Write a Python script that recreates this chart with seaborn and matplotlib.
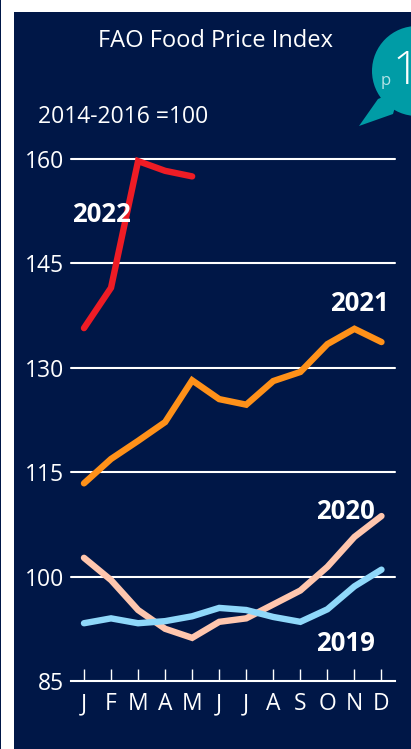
import pandas as pd
import seaborn as sns
import matplotlib.pyplot as plt
from matplotlib.patches import Circle, Polygon, Rectangle

months = ['J', 'F', 'M', 'A', 'M', 'J', 'J', 'A', 'S', 'O', 'N', 'D']
y_ticks = [85, 100, 115, 130, 145, 160]

v2019 = [93.3, 94.0, 93.3, 93.6, 94.3, 95.5, 95.2, 94.2, 93.5, 95.3, 98.6, 101.0]
v2020 = [102.7, 99.5, 95.2, 92.5, 91.2, 93.5, 94.0, 96.0, 98.0, 101.4, 105.7, 108.7]
v2021 = [113.4, 116.9, 119.5, 122.2, 128.2, 125.5, 124.7, 128.1, 129.4, 133.4, 135.6, 133.7]
v2022 = [135.7, 141.5, 159.7, 158.3, 157.5]

NAVY = '#001747'
TEAL = '#009ca6'
colors = {'2019': '#8fd8fa', '2020': '#ffc6ae', '2021': '#ff9119', '2022': '#ee1c25'}

rows = []
for year, vals in [('2020', v2020), ('2019', v2019), ('2021', v2021), ('2022', v2022)]:
    for i, v in enumerate(vals):
        rows.append({'year': year, 'month': i, 'index': v})
df = pd.DataFrame(rows)

sns.set_style('white')
plt.rcParams['font.family'] = ['Open Sans', 'DejaVu Sans']

W, H = 411, 749
fig = plt.figure(figsize=(W / 100, H / 100), dpi=100, facecolor='white')

# background and bubble, in pixels
bg = fig.add_axes([0, 0, 1, 1])
bg.set_xlim(0, W)
bg.set_ylim(H, 0)
bg.axis('off')
bg.add_patch(Rectangle((0, 0), 1, H, color=NAVY, lw=0))
bg.add_patch(Rectangle((14, 12), W - 14, H - 12, color=NAVY, lw=0))
bg.add_patch(Circle((417, 71), 45, color=TEAL, lw=0))
bg.add_patch(Polygon([(359, 126), (378, 99), (400, 90), (393, 114)], color=TEAL, lw=0))
bg.text(386, 81, 'p', color='#b5e3e6', fontsize=12, ha='center', va='center')
bg.text(392, 72, '1', color='white', fontsize=33, ha='left', va='center', fontweight='light')
bg.text(215, 41, 'FAO Food Price Index', color='white', fontsize=17, ha='center', va='center')
bg.text(38, 117, '2014-2016 =100', color='white', fontsize=16.5, ha='left', va='center')

# chart
ax = fig.add_axes([71 / W, 1 - 681 / H, (395 - 71) / W, (681 - 159) / H])
ax.patch.set_alpha(0)
for yv in y_ticks[1:]:
    ax.axhline(yv, color='white', lw=1.5, zorder=1, clip_on=False)

sns.lineplot(data=df, x='month', y='index', hue='year', palette=colors,
             hue_order=['2020', '2019', '2021', '2022'], linewidth=4.6,
             legend=False, ax=ax, zorder=3, clip_on=False,
             solid_joinstyle='miter', solid_capstyle='round', sort=False)

ax.set_xlim(-0.48, 11.5)
ax.set_ylim(85, 160)
ax.set_xticks(range(12))
ax.set_xticklabels(months)
ax.set_yticks(y_ticks)
ax.set_xlabel('')
ax.set_ylabel('')
for s in ['top', 'right', 'left']:
    ax.spines[s].set_visible(False)
ax.spines['bottom'].set_color('white')
ax.spines['bottom'].set_linewidth(1.5)
ax.tick_params(axis='x', direction='in', length=9, width=1, color='white',
               labelcolor='white', labelsize=16.5, pad=8, bottom=True)
ax.tick_params(axis='y', length=0, labelcolor='white', labelsize=16.5, pad=5)

for txt, x, y in [('2022', 0.63, 152.0), ('2021', 10.2, 139.3), ('2020', 9.65, 109.3), ('2019', 9.68, 90.4)]:
    ax.text(x, y, txt, color='white', fontsize=18.5, fontweight='bold', ha='center', va='center')

fig.savefig('out.png', dpi=100, facecolor='white')
